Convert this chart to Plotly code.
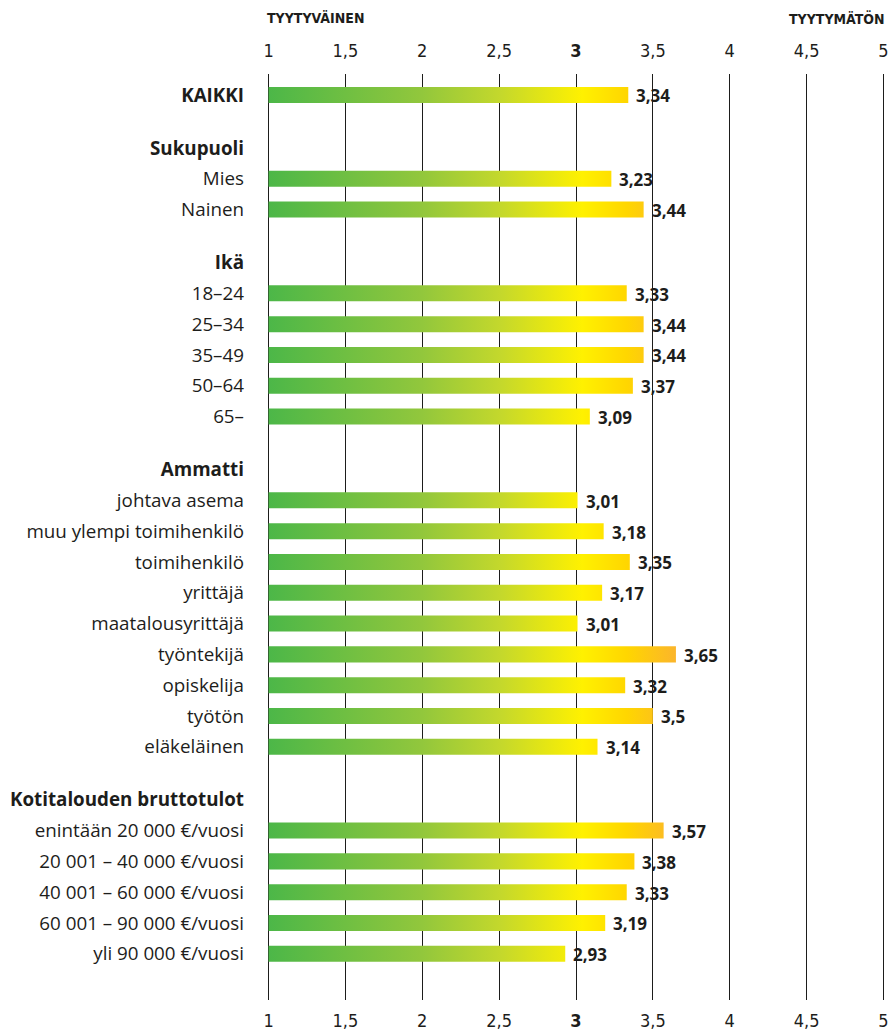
import plotly.graph_objects as go

# rows top to bottom; None value = group header
labels = ["KAIKKI",
          "Sukupuoli", "Mies", "Nainen",
          "Ikä", "18–24", "25–34", "35–49", "50–64", "65–",
          "Ammatti", "johtava asema", "muu ylempi toimihenkilö", "toimihenkilö", "yrittäjä",
          "maatalousyrittäjä", "työntekijä", "opiskelija", "työtön", "eläkeläinen",
          "Kotitalouden bruttotulot", "enintään 20 000 €/vuosi", "20 001 – 40 000 €/vuosi",
          "40 001 – 60 000 €/vuosi", "60 001 – 90 000 €/vuosi", "yli 90 000 €/vuosi"]
values = [3.34,
          None, 3.23, 3.44,
          None, 3.33, 3.44, 3.44, 3.37, 3.09,
          None, 3.01, 3.18, 3.35, 3.17, 3.01, 3.65, 3.32, 3.5, 3.14,
          None, 3.57, 3.38, 3.33, 3.19, 2.93]
x_ticks = [1, 1.5, 2, 2.5, 3, 3.5, 4, 4.5, 5]
x_ticktext = ["1", "1,5", "2", "2,5", "<b>3</b>", "3,5", "4", "4,5", "5"]

FONT = "'Open Sans', 'Noto Sans', sans-serif"
NUMFONT = "'DejaVu Sans Condensed', 'Liberation Sans Narrow', Roboto, sans-serif"
TXT = "#1d1d1b"
HEADER_GAP = 1.72
HALF = 0.26

# y positions (layout only)
ypos = []
y = 0.0
for i, v in enumerate(values):
    if i > 0:
        y += HEADER_GAP if v is None else 1.0
    ypos.append(y)

scale = [[0.0, "#4cb748"], [0.377, "#92c73c"], [0.57, "#c4d82c"],
         [0.77, "#fff100"], [0.88, "#ffd600"], [1.0, "#fbb52b"]]

fig = go.Figure()
annotations = []
for lab, v, yy in zip(labels, values, ypos):
    if v is None:
        continue
    fig.add_trace(go.Scatter(
        x=[1, v, v, 1, 1], y=[yy - HALF, yy - HALF, yy + HALF, yy + HALF, yy - HALF],
        mode="lines", fill="toself", line=dict(width=0),
        fillgradient=dict(type="horizontal", colorscale=scale, start=1, stop=3.65),
        hoverinfo="skip", showlegend=False))
    annotations.append(dict(
        x=v, y=yy, text="<b>%s</b>" % str(v).replace(".", ","),
        xanchor="left", yanchor="middle", xshift=6, yshift=-1, showarrow=False,
        font=dict(family=FONT, size=17, color=TXT)))

# invisible trace to activate top axis
fig.add_trace(go.Scatter(x=[1, 5], y=[0, 0], xaxis="x2", mode="markers",
                         marker=dict(opacity=0), hoverinfo="skip", showlegend=False))

ticktext_y = ["<b>%s</b>" % l if (v is None or l == "KAIKKI") else l
              for l, v in zip(labels, values)]

axis_common = dict(range=[0.99, 5.01], tickvals=x_ticks, ticktext=x_ticktext,
                   showgrid=True, gridcolor="#1d1d1b", gridwidth=1.3,
                   zeroline=False, showline=False, ticks="",
                   tickfont=dict(family=NUMFONT, size=18, color=TXT))

annotations += [
    dict(text="<b>TYYTYVÄINEN</b>", xref="paper", yref="paper", x=0, y=1,
         xanchor="left", yanchor="middle", yshift=56, xshift=-2, showarrow=False,
         font=dict(family=NUMFONT, size=14, color=TXT)),
    dict(text="<b>TYYTYMÄTÖN</b>", xref="paper", yref="paper", x=1, y=1,
         xanchor="right", yanchor="middle", yshift=56, xshift=2, showarrow=False,
         font=dict(family=NUMFONT, size=14, color=TXT)),
]

fig.update_layout(
    width=892, height=1030,
    margin=dict(l=267, r=7, t=74, b=30, autoexpand=False),
    plot_bgcolor="white", paper_bgcolor="white",
    xaxis=dict(side="bottom", ticklabelstandoff=8, **axis_common),
    xaxis2=dict(side="top", overlaying="x", ticklabelstandoff=12, **axis_common),
    yaxis=dict(range=[29.38, -0.68], tickvals=ypos, ticktext=ticktext_y,
               showgrid=False, zeroline=False, showline=False, ticks="",
               ticklabelstandoff=22,
               tickfont=dict(family=FONT, size=18.8, color=TXT)),
    annotations=annotations,
)

fig.write_html("out.html", config={"displayModeBar": False},
               post_script="document.body.style.margin='0';")
